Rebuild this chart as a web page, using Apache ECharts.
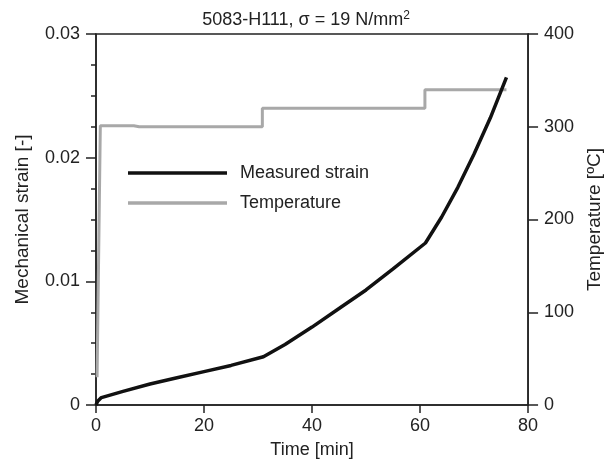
<!DOCTYPE html>
<html>
<head>
<meta charset="utf-8">
<script src="https://cdn.jsdelivr.net/npm/echarts@6/dist/echarts.min.js"></script>
<style>html,body{margin:0;padding:0;background:#fff}#c{width:612px;height:468px}</style>
</head>
<body>
<div id="c"></div>
<script>
// Data (time in min)
const strainTime = [0, 0.3, 1, 5, 10, 15, 20, 25, 31, 35, 40, 45, 50, 55, 61, 64, 67, 70, 73, 76];
const strainVal  = [0, 0.0003, 0.0006, 0.0011, 0.0017, 0.0022, 0.0027, 0.0032, 0.0039, 0.0049, 0.0063, 0.0078, 0.0093, 0.0110, 0.0131, 0.0152, 0.0176, 0.0203, 0.0232, 0.0265];
const tempTime = [0.2, 0.8, 7, 8, 30.8, 30.8, 60.9, 60.9, 76];
const tempVal  = [30, 301, 301, 300, 300, 320, 320, 340, 340];
const xTicks = [0, 20, 40, 60, 80];
const strainTicks = [0, 0.01, 0.02, 0.03];
const tempTicks = [0, 100, 200, 300, 400];

const strainData = strainTime.map((t, i) => [t, strainVal[i]]);
const tempData = tempTime.map((t, i) => [t, tempVal[i]]);

const FONT = 'Liberation Sans, Arial, sans-serif';
const axisCol = '#222';
const chart = echarts.init(document.getElementById('c'), null, {renderer: 'canvas'});
chart.setOption({
  animation: false,
  backgroundColor: '#fff',
  title: {
    text: '5083-H111, σ = 19 N/mm{sup|2}',
    left: 'center', top: 5,
    textStyle: {fontFamily: FONT, fontSize: 18, fontWeight: 'normal', color: '#222',
      rich: {sup: {fontFamily: FONT, fontSize: 12, verticalAlign: 'top', padding: [0,0,8,0], color: '#222'}}}
  },
  grid: {left: 96, right: 77, top: 34, bottom: 63, show: true, borderColor: axisCol, borderWidth: 1.5, backgroundColor: 'transparent'},
  legend: {
    orient: 'vertical', left: 128, top: 163, padding: 0,
    itemWidth: 99, itemHeight: 3.5, itemGap: 10,
    textStyle: {fontFamily: FONT, fontSize: 18, color: '#222', padding: [0, 0, 0, 8], lineHeight: 20},
    data: [
      {name: 'Measured strain', icon: 'rect', itemStyle: {color: '#111'}},
      {name: 'Temperature', icon: 'rect', itemStyle: {color: '#a8a8a8'}}
    ]
  },
  xAxis: {
    type: 'value', min: 0, max: 80, interval: 20,
    name: 'Time [min]', nameLocation: 'middle', nameGap: 36,
    nameTextStyle: {fontFamily: FONT, fontSize: 18, color: '#222'},
    axisLine: {lineStyle: {color: axisCol, width: 1.5}},
    axisTick: {length: 8, lineStyle: {color: axisCol, width: 1.5}},
    axisLabel: {fontFamily: FONT, fontSize: 18, color: '#222', margin: 12,
      formatter: v => xTicks.includes(v) ? String(v) : ''},
    splitLine: {show: false}
  },
  yAxis: [{
    type: 'value', min: 0, max: 0.03, interval: 0.01, position: 'left',
    name: 'Mechanical strain [-]', nameLocation: 'middle', nameGap: 64,
    nameTextStyle: {fontFamily: FONT, fontSize: 19, color: '#222'},
    axisLine: {show: true, lineStyle: {color: axisCol, width: 1.5}},
    axisTick: {show: true, length: 10, lineStyle: {color: axisCol, width: 1.5}},
    minorTick: {show: true, splitNumber: 4, length: 5, lineStyle: {color: axisCol, width: 1.5}},
    axisLabel: {fontFamily: FONT, fontSize: 18, color: '#222', margin: 16,
      formatter: v => { const m = strainTicks.find(s => Math.abs(s - v) < 1e-9); return m === undefined ? '' : String(m); }},
    splitLine: {show: false}
  }, {
    type: 'value', min: 0, max: 400, interval: 100, position: 'right',
    name: 'Temperature [ºC]', nameLocation: 'middle', nameGap: 55,
    nameTextStyle: {fontFamily: FONT, fontSize: 19, color: '#222'},
    axisLine: {show: true, lineStyle: {color: axisCol, width: 1.5}},
    axisTick: {show: true, length: 10, lineStyle: {color: axisCol, width: 1.5}},
    axisLabel: {fontFamily: FONT, fontSize: 18, color: '#222', margin: 16,
      formatter: v => tempTicks.includes(v) ? String(v) : ''},
    splitLine: {show: false}
  }],
  series: [{
    name: 'Measured strain', type: 'line', yAxisIndex: 0, data: strainData,
    showSymbol: false, symbol: 'none', z: 3,
    lineStyle: {color: '#111', width: 3.5}, itemStyle: {color: '#111'}
  }, {
    name: 'Temperature', type: 'line', yAxisIndex: 1, data: tempData,
    showSymbol: false, symbol: 'none', z: 2,
    lineStyle: {color: '#a8a8a8', width: 3}, itemStyle: {color: '#a8a8a8'}
  }]
});
</script>
</body>
</html>
